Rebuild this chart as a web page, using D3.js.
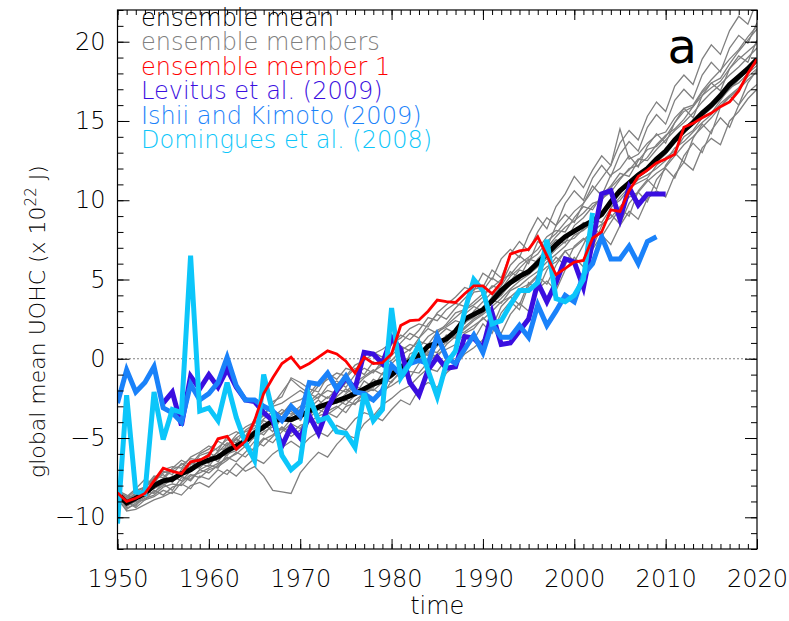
<!DOCTYPE html>
<html>
<head>
<meta charset="utf-8">
<script src="https://cdn.jsdelivr.net/npm/d3@7"></script>
<style>
  body { margin: 0; background: #fff; }
  text { font-family: "DejaVu Sans", sans-serif; font-weight: 200; }
</style>
</head>
<body>
<div id="chart-area"></div>
<script>
const margin = { LEFT: 117.5, RIGHT: 32, TOP: 10, BOTTOM: 72 };
const width = 789 - margin.LEFT - margin.RIGHT;
const height = 621 - margin.TOP - margin.BOTTOM;

// years of the model runs
const modelYears = d3.range(1950, 2021);

const ensembleMean = [
  -8.5, -9.1, -8.8, -8.5, -8.0, -7.7, -7.6, -7.25, -7.0, -6.6,
  -6.4, -6.2, -5.8, -5.5, -5.2, -4.7, -4.3, -3.9, -3.8, -3.85,
  -3.6, -3.3, -3.05, -2.85, -2.65, -2.45, -2.2, -1.9, -1.6, -1.4,
  -1.0, -0.55, -0.15, 0.2, 0.8, 1.0, 1.25, 1.75, 2.5, 2.8,
  3.1, 3.65, 4.3, 4.8, 5.2, 5.5, 6.05, 6.6, 7.2, 7.7,
  8.05, 8.4, 8.7, 9.1, 9.9, 10.6, 11.1, 11.6, 12.0, 12.6,
  13.1, 13.8, 14.4, 14.9, 15.5, 16.0, 16.6, 17.3, 17.8, 18.3,
  18.9
];

const member1 = [
  -8.45, -9.0, -8.8, -8.5, -7.7, -6.9, -7.1, -7.25, -6.5, -6.4,
  -6.1, -5.05, -4.9, -5.7, -5.2, -3.9, -2.2, -1.2, -0.3, 0.1,
  -0.6, -0.3, 0.1, 0.5, 0.3, -0.15, -0.9, 0.1, -0.3, -0.25,
  0.3, 2.1, 2.4, 2.45, 3.0, 3.7, 3.6, 3.55, 4.1, 4.6,
  4.6, 4.1, 4.8, 6.6, 6.8, 6.9, 7.7, 6.5, 5.3, 5.7,
  6.1, 6.2, 7.6, 8.0, 9.4, 9.3, 10.6, 11.5, 11.9, 12.35,
  12.6, 12.9, 14.6, 14.85, 15.2, 15.5, 15.9, 16.2, 16.9, 18.0,
  18.9
];

// the other ensemble members (grey)
const memberA = [-8.4,-8.7,-8.2,-7.6,-7.9,-7.0,-6.8,-6.9,-6.2,-5.9,-5.5,-5.8,-4.9,-4.6,-4.9,-3.8,-3.2,-2.9,-2.1,-1.3,-1.8,-2.2,-1.5,-0.9,-1.3,-0.6,-0.8,0.2,0.4,0.1,0.9,1.5,1.2,1.8,2.6,2.4,3.1,3.5,3.3,4.2,4.3,5.1,4.7,5.9,6.5,6.0,7.4,7.0,8.4,9.1,8.6,9.8,10.9,10.3,11.6,12.0,12.8,12.1,13.4,14.2,13.6,14.9,15.8,15.2,16.6,17.4,16.9,18.3,19.1,18.7,20.1];
const memberB = [-8.6,-9.3,-9.0,-8.9,-8.3,-8.6,-8.1,-7.9,-8.2,-7.4,-7.6,-7.0,-7.3,-6.6,-7.1,-6.8,-7.4,-8.3,-8.4,-8.5,-7.2,-6.5,-5.9,-6.2,-5.4,-4.8,-5.0,-4.1,-3.6,-3.9,-3.2,-2.6,-2.9,-1.9,-1.5,-1.8,-0.9,-0.4,0.3,0.7,1.2,2.1,1.6,2.8,3.5,3.0,4.4,4.9,4.3,5.6,6.4,5.8,6.9,7.8,7.2,8.4,9.3,8.8,10.1,10.6,10.2,11.6,12.4,11.9,13.3,13.9,13.5,15.0,15.6,16.4,17.0];
const memberC = [-8.3,-8.9,-8.5,-8.6,-7.7,-7.3,-7.8,-7.0,-6.5,-6.8,-6.1,-6.5,-5.7,-5.0,-5.6,-4.9,-4.1,-4.6,-3.7,-3.3,-3.9,-3.1,-2.6,-3.2,-2.4,-1.9,-2.3,-1.4,-1.8,-0.9,-0.6,-1.0,0.3,0.6,0.2,1.4,1.9,1.6,2.8,3.3,3.0,3.9,4.6,5.5,5.1,6.2,6.6,7.4,7.9,8.6,9.3,9.8,10.6,11.4,12.2,14.5,12.6,12.9,13.6,14.1,14.3,15.2,15.8,16.0,16.9,17.6,18.2,18.9,19.5,20.3,21.0];
const memberD = [-8.7,-9.4,-9.2,-8.8,-8.6,-8.1,-7.9,-8.0,-7.4,-7.2,-6.9,-6.6,-6.3,-6.0,-5.5,-5.8,-5.1,-4.8,-4.3,-4.7,-4.2,-4.0,-3.6,-3.4,-3.7,-3.0,-2.8,-2.5,-2.7,-2.0,-1.7,-1.3,-0.8,-0.9,-0.2,0.3,0.6,0.9,1.6,1.9,2.6,2.0,3.3,3.9,3.4,4.8,4.3,5.6,6.4,5.9,7.1,7.6,7.0,8.4,9.1,8.5,9.8,10.5,9.9,11.3,12.0,11.4,12.8,13.6,13.0,14.4,15.2,14.6,16.0,16.8,17.3];
const memberE = [-8.5,-9.0,-8.4,-8.1,-7.4,-7.5,-6.9,-6.4,-6.7,-6.0,-5.7,-5.2,-5.5,-4.8,-4.3,-4.0,-3.6,-2.7,-2.4,-1.2,-1.5,-1.9,-2.1,-1.1,-1.6,-1.2,-0.6,-1.0,-0.2,-0.5,0.2,0.8,0.5,1.3,1.9,1.6,2.2,2.9,3.1,3.6,4.1,4.5,5.0,5.3,6.0,6.4,6.9,7.7,8.1,8.0,8.9,9.6,9.4,10.3,10.9,11.7,11.5,12.5,13.2,13.4,14.0,14.9,15.6,15.9,16.8,17.4,17.7,18.6,19.4,20.1,20.8];
const memberF = [-8.4,-9.1,-9.3,-8.4,-8.2,-7.9,-8.3,-7.5,-7.6,-7.0,-7.2,-6.7,-6.2,-6.5,-5.9,-5.2,-5.5,-4.9,-4.4,-4.9,-4.5,-3.8,-4.1,-3.3,-3.0,-3.4,-2.6,-2.2,-1.9,-2.3,-1.4,-0.9,-1.2,-0.3,0.4,0.1,0.9,1.4,1.9,2.4,2.8,3.3,3.8,4.4,4.9,5.3,5.8,6.3,6.9,7.4,7.6,8.2,8.8,8.6,9.5,10.2,10.8,11.1,11.4,12.2,12.7,13.1,14.0,14.4,15.2,15.5,16.3,17.1,17.4,18.0,18.5];
const memberG = [-8.8,-9.6,-9.5,-9.2,-8.9,-8.7,-8.4,-8.6,-8.0,-7.8,-8.1,-7.5,-7.0,-7.4,-6.8,-6.3,-6.6,-6.0,-5.6,-5.2,-5.6,-5.0,-4.6,-4.9,-4.2,-4.5,-3.8,-3.4,-3.6,-2.9,-2.5,-2.0,-1.7,-1.1,-0.6,-0.8,0.0,0.5,0.9,1.2,2.2,1.6,2.9,3.6,3.1,4.6,5.2,4.7,5.9,6.8,6.1,7.2,8.4,7.7,8.6,9.5,9.0,10.6,11.3,10.7,12.2,13.0,12.4,13.9,14.8,14.2,15.9,16.6,16.0,17.4,18.2];
const memberH = [-8.4,-8.8,-8.6,-8.2,-7.5,-7.1,-7.3,-6.6,-6.9,-6.1,-5.9,-6.3,-5.4,-5.0,-4.6,-4.4,-3.8,-3.3,-3.5,-2.8,-2.6,-2.2,-2.5,-1.7,-1.4,-1.8,-1.0,-0.6,-0.9,-0.1,0.4,1.0,1.6,1.3,2.2,2.8,2.5,3.2,3.8,4.4,4.5,5.6,5.1,6.6,7.4,6.8,8.0,8.9,8.4,9.8,10.6,10.0,11.4,12.2,11.5,12.9,13.7,13.1,14.6,15.4,14.8,16.3,17.0,16.4,17.9,18.7,18.1,19.6,20.4,19.9,21.2];
const memberI = [-8.6,-9.2,-8.9,-8.3,-8.5,-7.8,-7.4,-7.7,-7.1,-6.6,-6.8,-6.0,-6.1,-5.4,-5.0,-4.5,-4.8,-4.1,-3.9,-3.6,-3.2,-3.6,-2.9,-2.4,-2.8,-2.2,-1.7,-2.0,-1.3,-1.6,-0.8,-0.4,0.1,-0.2,0.7,1.1,1.0,1.8,2.3,2.6,3.2,3.5,4.0,4.7,5.0,5.6,5.9,6.5,7.0,7.6,8.0,8.6,8.3,9.2,9.9,10.4,11.0,11.7,11.9,12.4,12.9,13.6,14.2,14.8,15.3,15.8,16.4,17.0,17.6,18.2,18.7];
const memberJ = [-8.9,-9.5,-9.1,-8.7,-8.4,-8.0,-7.6,-7.2,-6.8,-6.9,-6.3,-5.9,-5.3,-5.6,-4.9,-4.2,-4.5,-3.7,-3.2,-3.5,-3.0,-2.7,-2.2,-2.5,-1.9,-2.1,-1.5,-1.1,-0.7,-1.0,-0.3,0.2,0.6,1.1,0.9,1.7,2.0,2.4,2.2,3.0,3.6,4.2,4.0,4.9,5.6,5.4,6.3,6.9,7.5,7.3,8.4,8.9,9.6,10.1,10.5,11.3,12.0,12.2,12.7,13.5,14.1,14.5,15.1,15.9,16.6,17.1,17.5,18.3,18.9,19.4,19.9];
const memberK = [-8.5,-9.0,-9.4,-8.9,-8.7,-8.3,-8.5,-7.8,-7.3,-7.5,-7.0,-6.8,-6.4,-5.9,-6.2,-5.6,-5.0,-5.3,-4.6,-4.1,-4.4,-3.7,-3.2,-3.5,-3.1,-2.6,-2.9,-2.1,-1.8,-1.2,-1.5,-0.7,-0.3,0.4,0.2,0.8,1.5,1.3,2.0,2.5,2.9,3.7,3.5,4.3,4.6,5.1,5.5,6.1,6.6,7.1,7.8,8.1,8.6,9.3,9.6,10.0,10.7,11.3,11.6,12.0,12.5,13.3,13.7,14.3,14.9,15.4,16.1,16.6,17.1,17.8,18.3];
const memberL = [-8.3,-8.6,-8.9,-8.0,-7.8,-7.6,-7.0,-7.3,-6.5,-6.3,-6.6,-5.8,-5.6,-5.1,-5.4,-4.6,-3.9,-4.2,-3.4,-3.0,-3.3,-2.8,-2.4,-2.0,-2.2,-1.5,-1.8,-1.2,-0.8,-0.4,-0.1,0.5,0.9,0.7,1.4,1.8,2.1,2.6,3.1,3.4,3.9,4.6,4.4,5.2,5.7,6.3,6.1,7.0,7.7,8.3,8.7,9.2,9.8,10.0,10.8,11.4,11.9,12.6,12.5,13.2,13.8,14.4,14.9,15.5,16.2,16.8,17.3,17.9,18.4,19.0,19.6];
const memberM = [-8.6,-9.3,-8.7,-8.6,-8.1,-7.9,-7.6,-7.4,-7.7,-7.0,-6.7,-6.9,-6.0,-5.8,-5.3,-5.0,-4.6,-4.3,-4.5,-3.8,-3.5,-3.2,-3.5,-2.9,-2.6,-2.9,-2.3,-1.9,-2.0,-1.5,-1.2,-0.6,-0.4,0.1,0.5,0.4,1.1,1.5,1.7,2.1,2.5,3.0,3.6,3.9,4.4,4.7,5.3,5.8,6.1,6.8,7.0,7.5,8.0,8.5,8.9,9.6,10.2,10.5,11.2,11.7,12.1,12.8,13.5,14.0,14.6,15.2,15.9,16.5,17.0,17.6,18.1];
const memberN = [-8.4,-8.8,-8.3,-8.1,-7.6,-7.2,-7.0,-6.7,-6.3,-6.4,-6.0,-5.6,-5.1,-5.3,-4.5,-4.1,-3.5,-3.0,-2.8,-2.4,-2.0,-2.4,-1.7,-1.3,-0.9,-1.1,-0.4,-0.1,0.3,0.6,1.0,1.3,1.9,2.2,2.0,2.9,3.4,3.9,4.5,4.3,5.4,5.0,6.3,6.9,6.4,7.8,8.9,8.2,9.6,10.4,11.5,10.8,11.9,12.8,12.2,13.6,14.4,13.8,15.3,16.2,15.6,17.2,17.9,17.3,18.9,19.8,19.2,20.7,21.6,21.1,22.6];
const greyMembers = [memberA, memberB, memberC, memberD, memberE, memberF, memberG,
  memberH, memberI, memberJ, memberK, memberL, memberM, memberN];

// observational estimates
const levitusYears = d3.range(1955, 2011);
const levitus = [
  -2.8, -2.1, -4.2, -1.1, -1.9, -1.0, -1.8, -0.65, -1.8, -2.6,
  -2.7, -3.4, -3.9, -5.5, -4.3, -5.0, -3.6, -4.7, -3.1, -2.0,
  -1.2, -1.9, 0.4, 0.3, -0.3, 1.35, 0.6, -1.5, -2.3, -0.7,
  0.1, -0.6, -0.5, 1.4, 1.3, 0.7, 2.9, 0.9, 1.0, 1.75,
  2.5, 4.8, 3.6, 4.8, 6.3, 6.1, 4.5, 7.4, 10.4, 10.6,
  8.8, 10.8, 9.7, 10.4, 10.4, 10.4
];
const ishiiYears = d3.range(1950, 2010);
const ishii = [
  -2.8, -0.7, -2.1, -1.5, -0.5, -3.1, -3.4, -4.0, -1.6, -2.6,
  -2.2, -1.5, 0.1, -1.7, -2.6, -2.6, -3.0, -3.3, -3.9, -3.0,
  -3.6, -1.5, -1.6, -0.9, -1.9, -1.1, -2.1, -2.2, -2.6, -2.0,
  -0.4, -1.0, -0.3, -0.1, -0.3, 1.45, 0.1, -0.3, 0.6, 1.5,
  0.4, 2.2, 1.35, 1.35, 2.1, 1.35, 3.4, 2.1, 3.0, 4.0,
  3.6, 5.3, 6.0, 7.7, 6.3, 6.3, 7.1, 6.0, 7.4, 7.7
];
const dominguesYears = d3.range(1950, 2003);
const domingues = [
  -10.4, -2.3, -8.4, -8.5, -2.1, -5.1, -3.2, -3.4, 6.5, -3.3,
  -3.1, -3.9, -1.5, -3.7, -5.3, -6.4, -1.0, -3.4, -6.1, -7.0,
  -6.5, -2.4, -3.9, -3.7, -4.6, -4.7, -5.6, -2.2, -3.9, -3.2,
  3.2, -1.2, -0.3, 0.9, -0.75, -2.4, -0.3, 0.5, 3.0, 5.0,
  4.3, 2.2, 2.4, 3.4, 4.3, 4.3, 4.8, 7.5, 3.8, 3.6,
  4.0, 5.0, 9.2
];

const legendLabels = ["ensemble mean", "ensemble members", "ensemble member 1",
  "Levitus et al. (2009)", "Ishii and Kimoto (2009)", "Domingues et al. (2008)"];
const legendColors = ["#000000", "#808080", "#ff0000", "#3a0ee0", "#1a82fa", "#0cc6fa"];

const yearTicks = d3.range(1950, 2021, 10);
const valueTicks = [-10, -5, 0, 5, 10, 15, 20];

const svg = d3.select("#chart-area").append("svg")
  .attr("width", 789)
  .attr("height", 621);

svg.append("rect").attr("width", 789).attr("height", 621).attr("fill", "#fff");

const g = svg.append("g")
  .attr("transform", `translate(${margin.LEFT}, ${margin.TOP})`);

// Scales
const x = d3.scaleLinear().domain([1950, 2020]).range([0, width]);
const y = d3.scaleLinear().domain([-12, 22]).range([height, 0]);

g.append("clipPath").attr("id", "plot-clip")
  .append("rect").attr("width", width).attr("height", height);

const line = d3.line()
  .x(d => x(d[0]))
  .y(d => y(d[1]));

const plot = g.append("g").attr("clip-path", "url(#plot-clip)");

// zero line
plot.append("line")
  .attr("x1", 0).attr("x2", width)
  .attr("y1", y(0)).attr("y2", y(0))
  .attr("stroke", "#000")
  .attr("stroke-width", 1)
  .attr("stroke-dasharray", "1,3");

function drawSeries(years, values, color, lw) {
  plot.append("path")
    .datum(years.map((yr, i) => [yr, values[i]]))
    .attr("fill", "none")
    .attr("stroke", color)
    .attr("stroke-width", lw)
    .attr("stroke-linejoin", "miter")
    .attr("d", line);
}

greyMembers.forEach(m => drawSeries(modelYears, m, legendColors[1], 1.3));
drawSeries(modelYears, ensembleMean, legendColors[0], 5);
drawSeries(levitusYears, levitus, legendColors[3], 5);
drawSeries(ishiiYears, ishii, legendColors[4], 5);
drawSeries(dominguesYears, domingues, legendColors[5], 5);
drawSeries(modelYears, member1, legendColors[2], 2.8);

// Axes: major and minor ticks on all four sides, pointing inward
function addAxis(axis, transform) {
  const a = g.append("g").attr("transform", transform).call(axis);
  a.select(".domain").remove();
  a.selectAll("line").attr("stroke", "#000");
  return a;
}

const xBottom = addAxis(d3.axisBottom(x).tickValues(yearTicks).tickSize(-10)
  .tickPadding(21).tickFormat(d3.format("d")), `translate(0, ${height})`);
addAxis(d3.axisBottom(x).tickValues(d3.range(1950, 2021)).tickSize(-5).tickFormat(""),
  `translate(0, ${height})`);
addAxis(d3.axisTop(x).tickValues(yearTicks).tickSize(-10).tickFormat(""), "translate(0, 0)");
addAxis(d3.axisTop(x).tickValues(d3.range(1950, 2021)).tickSize(-5).tickFormat(""), "translate(0, 0)");

const yLeft = addAxis(d3.axisLeft(y).tickValues(valueTicks).tickSize(-12).tickPadding(12),
  "translate(0, 0)");
addAxis(d3.axisLeft(y).tickValues(d3.range(-12, 23)).tickSize(-6).tickFormat(""), "translate(0, 0)");
addAxis(d3.axisRight(y).tickValues(valueTicks).tickSize(-12).tickFormat(""), `translate(${width}, 0)`);
addAxis(d3.axisRight(y).tickValues(d3.range(-12, 23)).tickSize(-6).tickFormat(""), `translate(${width}, 0)`);

[xBottom, yLeft].forEach(a => a.selectAll("text")
  .attr("font-family", "DejaVu Sans, sans-serif")
  .attr("font-weight", 200)
  .style("font-weight", 200)
  .attr("font-size", "24px")
  .attr("fill", "#000"));

// frame
g.append("rect")
  .attr("width", width).attr("height", height)
  .attr("fill", "none")
  .attr("stroke", "#000")
  .attr("stroke-width", 1.2);

// Labels
g.append("text")
  .attr("x", width / 2)
  .attr("y", height + 65)
  .attr("font-size", "24px")
  .attr("text-anchor", "middle")
  .text("time");

const yLabel = svg.append("text")
  .attr("transform", "translate(45, 478) rotate(-90)")
  .attr("font-size", "22px")
  .attr("text-anchor", "start");
yLabel.append("tspan").text("global mean UOHC (x 10");
yLabel.append("tspan").attr("font-size", "15px").attr("dy", "-9").text("22");
yLabel.append("tspan").attr("dy", "9").text("  J)");

g.append("text")
  .attr("x", 550)
  .attr("y", 53)
  .attr("font-size", "48px")
  .style("font-weight", 400)
  .text("a");

// legend
legendLabels.forEach((label, i) => {
  svg.append("text")
    .attr("x", 141)
    .attr("y", 26 + i * 24.4)
    .attr("font-size", "24px")
    .attr("fill", legendColors[i])
    .text(label);
});
</script>
</body>
</html>
